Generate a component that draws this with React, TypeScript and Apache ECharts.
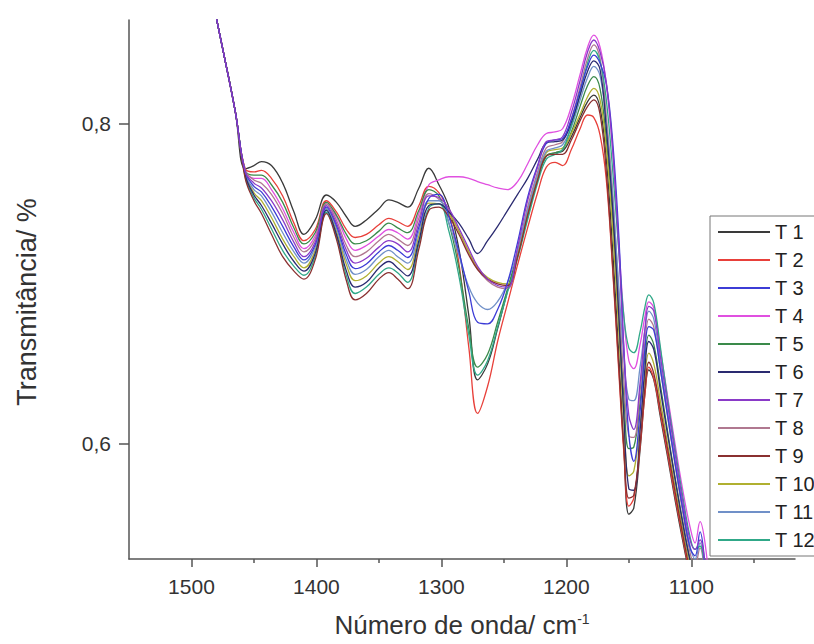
import React, { useEffect, useRef } from 'react';
import * as echarts from 'echarts';

const wavenumbers = [1500, 1485, 1475, 1465, 1457,
  1450, 1444, 1436, 1427, 1418, 1410, 1401, 1392, 1384, 1376, 1369, 1360, 1350, 1342, 1335, 1327, 1318, 1310,
  1302, 1294, 1286, 1278, 1271, 1263, 1255, 1247, 1239, 1231, 1223, 1216,
  1209, 1203, 1196, 1189, 1183, 1178, 1173,
  1168, 1163, 1158, 1154, 1150, 1146, 1141, 1137, 1134, 1130,
  1125, 1119, 1113, 1107, 1101, 1097, 1093, 1089, 1084];

const T1 = [0.945, 0.885, 0.847, 0.808, 0.772,
  0.774, 0.7765, 0.774, 0.763, 0.745, 0.731, 0.740, 0.7556, 0.751, 0.742, 0.736, 0.740, 0.747, 0.7525, 0.751, 0.748, 0.760, 0.7723,
  0.762, 0.748, 0.722, 0.680, 0.640, 0.650, 0.672, 0.696, 0.719, 0.744, 0.766, 0.780,
  0.782, 0.783, 0.792, 0.804, 0.814, 0.818, 0.810,
  0.778, 0.722, 0.655, 0.598, 0.556, 0.560, 0.596, 0.632, 0.6463, 0.640,
  0.618, 0.592, 0.565, 0.540, 0.517, 0.505, 0.510, 0.500, 0.475];
const T2 = [0.945, 0.885, 0.847, 0.808, 0.772,
  0.770, 0.771, 0.766, 0.755, 0.738, 0.727, 0.734, 0.752, 0.745, 0.734, 0.729, 0.731, 0.737, 0.741, 0.739, 0.736, 0.749, 0.761,
  0.757, 0.744, 0.713, 0.660, 0.619, 0.636, 0.664, 0.688, 0.712, 0.735, 0.757, 0.773,
  0.776, 0.774, 0.784, 0.797, 0.8056, 0.804, 0.793,
  0.765, 0.710, 0.645, 0.595, 0.561, 0.566, 0.598, 0.632, 0.648, 0.641,
  0.620, 0.594, 0.567, 0.542, 0.518, 0.506, 0.512, 0.500, 0.476];
const T3 = [0.945, 0.885, 0.847, 0.808, 0.770,
  0.761, 0.7575, 0.7485, 0.736, 0.723, 0.715, 0.7245, 0.748, 0.7365, 0.718, 0.7095, 0.7125, 0.720, 0.724, 0.721, 0.7165, 0.7355, 0.7535,
  0.756, 0.742, 0.720, 0.695, 0.676, 0.675, 0.684, 0.701, 0.726, 0.754, 0.774, 0.788,
  0.790, 0.791, 0.803, 0.821, 0.836, 0.843, 0.838,
  0.825, 0.790, 0.730, 0.660, 0.606, 0.589, 0.620, 0.660, 0.6733, 0.671,
  0.648, 0.618, 0.588, 0.560, 0.535, 0.530, 0.545, 0.525, 0.490];
const T4 = [0.945, 0.885, 0.847, 0.808, 0.771,
  0.766, 0.766, 0.759, 0.747, 0.732, 0.722, 0.730, 0.750, 0.742, 0.728, 0.721, 0.724, 0.730, 0.734, 0.732, 0.728, 0.744, 0.762,
  0.765, 0.767, 0.767, 0.766, 0.764, 0.762, 0.760, 0.759, 0.764, 0.775, 0.787, 0.794,
  0.795, 0.797, 0.811, 0.831, 0.848, 0.8556, 0.848,
  0.825, 0.785, 0.725, 0.680, 0.652, 0.647, 0.662, 0.680, 0.6888, 0.685,
  0.660, 0.630, 0.600, 0.572, 0.548, 0.538, 0.5514, 0.538, 0.500];
const T5 = [0.945, 0.885, 0.847, 0.808, 0.771,
  0.768, 0.768, 0.762, 0.751, 0.735, 0.725, 0.732, 0.751, 0.743, 0.731, 0.725, 0.727, 0.733, 0.738, 0.735, 0.732, 0.746, 0.759,
  0.755, 0.738, 0.710, 0.672, 0.648, 0.656, 0.676, 0.697, 0.718, 0.742, 0.765, 0.780,
  0.782, 0.784, 0.795, 0.811, 0.824, 0.8296, 0.822,
  0.790, 0.742, 0.680, 0.630, 0.597, 0.598, 0.626, 0.655, 0.668, 0.662,
  0.638, 0.608, 0.579, 0.552, 0.528, 0.518, 0.527, 0.512, 0.485];
const T6 = [0.945, 0.885, 0.847, 0.808, 0.768,
  0.7556, 0.749, 0.738, 0.725, 0.714, 0.708, 0.719, 0.746, 0.731, 0.708, 0.698, 0.701, 0.710, 0.714, 0.710, 0.705, 0.727, 0.749,
  0.750, 0.745, 0.738, 0.728, 0.719, 0.727, 0.736, 0.746, 0.756, 0.766, 0.778, 0.788,
  0.789, 0.790, 0.801, 0.818, 0.833, 0.8395, 0.834,
  0.797, 0.748, 0.680, 0.618, 0.572, 0.571, 0.608, 0.648, 0.664, 0.659,
  0.635, 0.606, 0.578, 0.551, 0.527, 0.516, 0.524, 0.510, 0.483];
const T7 = [0.945, 0.885, 0.847, 0.808, 0.770,
  0.763, 0.760, 0.752, 0.740, 0.726, 0.717, 0.726, 0.749, 0.738, 0.721, 0.713, 0.716, 0.723, 0.727, 0.725, 0.720, 0.738, 0.755,
  0.754, 0.747, 0.735, 0.722, 0.711, 0.703, 0.699, 0.698, 0.723, 0.752, 0.773, 0.789,
  0.790, 0.792, 0.807, 0.827, 0.845, 0.8525, 0.845,
  0.826, 0.785, 0.722, 0.660, 0.618, 0.609, 0.638, 0.672, 0.686, 0.683,
  0.656, 0.625, 0.594, 0.565, 0.540, 0.534, 0.540, 0.524, 0.490];
const T8 = [0.945, 0.885, 0.847, 0.808, 0.771,
  0.765, 0.763, 0.756, 0.744, 0.729, 0.720, 0.728, 0.750, 0.740, 0.724, 0.717, 0.720, 0.727, 0.731, 0.728, 0.724, 0.741, 0.7565,
  0.753, 0.746, 0.733, 0.720, 0.709, 0.702, 0.698, 0.697, 0.720, 0.748, 0.770, 0.785,
  0.787, 0.789, 0.803, 0.823, 0.841, 0.8494, 0.841,
  0.805, 0.758, 0.693, 0.640, 0.605, 0.604, 0.633, 0.664, 0.678, 0.673,
  0.648, 0.617, 0.587, 0.558, 0.532, 0.524, 0.535, 0.518, 0.487];
const T9 = [0.945, 0.885, 0.847, 0.808, 0.766,
  0.752, 0.744, 0.731, 0.717, 0.708, 0.703, 0.715, 0.744, 0.728, 0.702, 0.690, 0.694, 0.703, 0.707, 0.703, 0.697, 0.722, 0.746,
  0.748, 0.742, 0.731, 0.718, 0.709, 0.703, 0.700, 0.699, 0.717, 0.743, 0.765, 0.780,
  0.781, 0.781, 0.790, 0.802, 0.811, 0.815, 0.806,
  0.770, 0.712, 0.648, 0.598, 0.566, 0.568, 0.600, 0.636, 0.651, 0.644,
  0.623, 0.597, 0.570, 0.544, 0.520, 0.508, 0.514, 0.502, 0.478];
const T10 = [0.945, 0.885, 0.847, 0.808, 0.769,
  0.757, 0.752, 0.7415, 0.728, 0.717, 0.710, 0.721, 0.7465, 0.733, 0.712, 0.702, 0.705, 0.713, 0.717, 0.714, 0.709, 0.730, 0.7505,
  0.750, 0.744, 0.733, 0.720, 0.710, 0.704, 0.701, 0.700, 0.719, 0.745, 0.767, 0.782,
  0.784, 0.785, 0.794, 0.806, 0.817, 0.8223, 0.815,
  0.785, 0.735, 0.670, 0.615, 0.580, 0.583, 0.612, 0.643, 0.6567, 0.650,
  0.628, 0.600, 0.573, 0.547, 0.523, 0.512, 0.518, 0.505, 0.480];
const T11 = [0.945, 0.885, 0.847, 0.808, 0.769,
  0.759, 0.755, 0.745, 0.732, 0.720, 0.713, 0.723, 0.747, 0.735, 0.715, 0.706, 0.709, 0.717, 0.721, 0.717, 0.713, 0.733, 0.752,
  0.752, 0.738, 0.718, 0.698, 0.688, 0.684, 0.689, 0.701, 0.721, 0.746, 0.768, 0.783,
  0.785, 0.787, 0.798, 0.815, 0.829, 0.836, 0.830,
  0.800, 0.755, 0.698, 0.655, 0.628, 0.627, 0.648, 0.672, 0.683, 0.678,
  0.652, 0.620, 0.590, 0.562, 0.536, 0.528, 0.538, 0.520, 0.488];
const T12 = [0.945, 0.885, 0.847, 0.808, 0.767,
  0.7538, 0.7467, 0.7345, 0.7208, 0.711, 0.7054, 0.717, 0.7448, 0.7297, 0.705, 0.694, 0.698, 0.706, 0.710, 0.707, 0.701, 0.725, 0.7475,
  0.750, 0.733, 0.705, 0.668, 0.643, 0.652, 0.673, 0.695, 0.716, 0.740, 0.763, 0.778,
  0.781, 0.784, 0.799, 0.819, 0.838, 0.846, 0.839,
  0.815, 0.772, 0.720, 0.680, 0.660, 0.657, 0.670, 0.686, 0.6931, 0.688,
  0.662, 0.628, 0.597, 0.568, 0.542, 0.534, 0.536, 0.520, 0.490];

const seriesNames = ['T 1', 'T 2', 'T 3', 'T 4', 'T 5', 'T 6', 'T 7', 'T 8', 'T 9', 'T 10', 'T 11', 'T 12'];
const seriesColors = ['#3a3a3a', '#e8403a', '#3c3cd6', '#e050e0', '#3a8a4a', '#2a2a70',
  '#8a3ac8', '#b07890', '#8a3030', '#b0b030', '#7090c8', '#30a888'];
const seriesLayer = [2, 2, 4, 2, 2, 3, 4, 2, 3, 2, 2, 2];
const xMajorTicks = [1500, 1400, 1300, 1200, 1100];
const xMinorTicks = [1450, 1350, 1250, 1150, 1050];
const yTicks = [0.6, 0.8];

const FONT = 'Arial, "Liberation Sans", sans-serif';

export default function App() {
  const ref = useRef<HTMLDivElement>(null);
  useEffect(() => {
    const chart = echarts.init(ref.current!, null, { renderer: 'svg' });
    const allValues = [T1, T2, T3, T4, T5, T6, T7, T8, T9, T10, T11, T12];
    const axisColor = '#555';
    chart.setOption({
      animation: false,
      backgroundColor: '#ffffff',
      grid: { left: 129, top: 20, right: 19, bottom: 85, containLabel: false },
      xAxis: [
        {
          type: 'value', inverse: true, min: 1017, max: 1550,
          axisLine: { show: true, lineStyle: { color: axisColor, width: 1.5 } },
          axisTick: { show: true, length: 8, customValues: xMajorTicks, lineStyle: { color: axisColor, width: 1.5 } },
          axisLabel: {
            customValues: xMajorTicks, fontSize: 21, color: '#333', margin: 17, fontFamily: FONT,
            formatter: (v: number) => String(Math.round(v)),
          },
          splitLine: { show: false },
        },
        {
          type: 'value', inverse: true, min: 1017, max: 1550, position: 'bottom',
          axisLine: { show: false },
          axisTick: { show: true, length: 4, customValues: xMinorTicks, lineStyle: { color: axisColor, width: 1.5 } },
          axisLabel: { show: false },
          splitLine: { show: false },
        },
      ],
      yAxis: {
        type: 'value', min: 0.528, max: 0.865,
        axisLine: { show: true, lineStyle: { color: axisColor, width: 1.5 } },
        axisTick: { show: true, length: 10, customValues: yTicks, lineStyle: { color: axisColor, width: 1.5 } },
        axisLabel: {
          customValues: yTicks, fontSize: 21, color: '#333', margin: 18, fontFamily: FONT,
          formatter: (v: number) => v.toFixed(1).replace('.', ','),
        },
        splitLine: { show: false },
      },
      legend: {
        orient: 'vertical', left: 710, top: 216,
        padding: [6, 8, 6, 8],
        itemWidth: 52, itemHeight: 2, itemGap: 8, icon: 'rect',
        borderColor: '#777', borderWidth: 1, backgroundColor: '#fff',
        selectedMode: false,
        textStyle: { fontSize: 20, color: '#222', fontFamily: FONT },
        data: seriesNames,
      },
      graphic: [
        {
          type: 'text', x: 462, y: 625,
          style: {
            text: 'Número de onda/ cm{sup|-1}',
            font: `26px ${FONT}`, fill: '#333', textAlign: 'center', textVerticalAlign: 'middle',
            rich: { sup: { fontSize: 14, fontFamily: FONT, fill: '#333', verticalAlign: 'top', padding: [0, 0, 12, 0] } },
          },
        },
        {
          type: 'text', x: 27, y: 302, rotation: Math.PI / 2,
          style: {
            text: 'Transmitância/ %',
            font: `27px ${FONT}`, fill: '#333', textAlign: 'center', textVerticalAlign: 'middle',
          },
        },
      ],
      series: allValues.map((vals, k) => ({
        type: 'line',
        name: seriesNames[k],
        z: seriesLayer[k],
        data: wavenumbers.map((w, i) => [w, vals[i]]),
        showSymbol: false,
        symbol: 'none',
        smooth: 0.4,
        clip: true,
        lineStyle: { width: 1.3, color: seriesColors[k] },
        itemStyle: { color: seriesColors[k] },
        emphasis: { disabled: true },
      })),
    });
    return () => chart.dispose();
  }, []);
  return <div ref={ref} style={{ position: 'fixed', left: 0, top: 0, width: 814, height: 644 }} />;
}
